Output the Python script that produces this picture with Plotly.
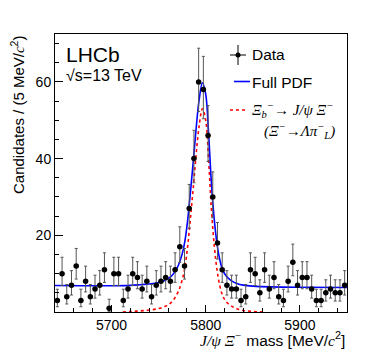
import numpy as np
import plotly.graph_objects as go

# J/psi Xi- invariant mass, 5 MeV bins from 5640 to 5950
bin_lo = 5640
bin_width = 5
counts = [3, 10, 4, 7, 12, 3, 8, 4, 6, 7, 11, 1, 10, 10, 3, 6,
          10, 9, 6, 8, 4, 7, 8, 9, 8, 11, 17,
          12, 27, 40, 60, 58, 46, 30, 18,
          11, 7, 6, 6, 3, 4, 11, 10, 5, 11, 6, 9, 4, 3, 8, 13, 7, 9, 9, 6, 3, 3, 5, 6, 5, 5, 7]

# fitted curves
pdf_mass = [5640, 5700, 5720, 5730, 5740, 5750, 5757, 5762, 5767, 5771, 5775, 5778, 5781, 5784,
            5787, 5790, 5793, 5796.5, 5800, 5803, 5806, 5809, 5812, 5815, 5818, 5822, 5827,
            5833, 5840, 5850, 5870, 5900, 5950]
pdf_full = [6.9, 6.85, 6.95, 7.1, 7.3, 7.7, 8.3, 9.0, 10.4, 12.2, 15.1, 18.6, 24.3, 31.8,
            39.8, 48.3, 55.3, 59.8, 56.8, 46.8, 33.8, 24.3, 17.8, 13.6, 11.0, 9.3, 8.2,
            7.45, 7.0, 6.75, 6.55, 6.45, 6.4]
sig_mass = [5712, 5720, 5730, 5740, 5750, 5757, 5762, 5767, 5771, 5775, 5778, 5781, 5784, 5787,
            5790, 5793, 5796.5, 5800, 5803, 5806, 5809, 5812, 5815, 5818, 5822, 5827, 5833,
            5840, 5850, 5862]
sig_pdf = [0.0, 0.12, 0.28, 0.5, 0.9, 1.5, 2.2, 3.6, 5.4, 8.3, 11.8, 17.5, 25, 33,
           41.5, 48.5, 53, 50, 40, 27, 17.5, 11, 6.8, 4.3, 2.6, 1.6, 0.85,
           0.4, 0.15, 0.0]

x_ticks = [5700, 5800, 5900]
y_ticks = [20, 40, 60]

n = np.array(counts, dtype=float)
centers = bin_lo + bin_width * (np.arange(len(counts)) + 0.5)
# asymmetric Poisson errors (Gehrels approximation)
err_hi = np.sqrt(n + 0.75) + 1.0
err_lo = n - n * (1 - 1 / (9 * n) - 1 / (3 * np.sqrt(n))) ** 3

FONT = "Liberation Sans, Arial, sans-serif"
SERIF = "Liberation Serif"

fig = go.Figure()
fig.add_trace(go.Scatter(x=sig_mass, y=sig_pdf, mode="lines", line_shape="spline",
                         line=dict(color="#ff0000", width=1.6, dash="dot")))
fig.add_trace(go.Scatter(x=pdf_mass, y=pdf_full, mode="lines", line_shape="spline",
                         line=dict(color="#0000ff", width=1.6)))
fig.add_trace(go.Scatter(
    x=centers, y=n, mode="markers",
    marker=dict(color="black", size=5.5),
    error_y=dict(type="data", symmetric=False, array=err_hi, arrayminus=err_lo,
                 color="#555555", thickness=1, width=1.5),
    error_x=dict(type="constant", value=bin_width / 2, color="black", thickness=1, width=0),
))

# the page body has an 8px margin, so the figure is drawn 8px right and down
OFF = 8
W, H = 366 - OFF, 351 - OFF
# plot area in window pixels: x 55..347, y 34..312
L, R, T, B = 55, 347, 34, 312
def px(x):
    return (x - L) / (R - L)
def py(y):
    return (B - y) / (B - T)

shapes = [
    # Data legend icon
    dict(type="line", xref="paper", yref="paper", x0=px(238), x1=px(238), y0=py(45), y1=py(65),
         line=dict(color="black", width=1)),
    dict(type="line", xref="paper", yref="paper", x0=px(230), x1=px(246), y0=py(55), y1=py(55),
         line=dict(color="black", width=1)),
    dict(type="circle", xref="paper", yref="paper", x0=px(235.5), x1=px(240.5), y0=py(57.5), y1=py(52.5),
         fillcolor="black", line=dict(color="black", width=0)),
    # Full PDF legend icon
    dict(type="line", xref="paper", yref="paper", x0=px(234), x1=px(250), y0=py(81.5), y1=py(81.5),
         line=dict(color="#0000ff", width=1.6)),
    # signal legend icon
    dict(type="line", xref="paper", yref="paper", x0=px(230), x1=px(247), y0=py(110), y1=py(110),
         line=dict(color="#ff0000", width=1.6, dash="dot")),
]

def ann(x, y, text, size, xanchor="left", angle=0, yanchor="middle", family=FONT):
    return dict(xref="paper", yref="paper", x=px(x), y=py(y), text=text, showarrow=False,
                xanchor=xanchor, yanchor=yanchor, textangle=angle,
                font=dict(family=family, size=size, color="black"))

it = lambda s: f"<i><span style='font-family:{SERIF}'>{s}</span></i>"
annotations = [
    ann(64, 54, "LHCb", 21),
    ann(64, 76, "√s=13 TeV", 16),
    ann(250, 55, "Data", 15.5),
    ann(250, 82, "Full PDF", 15.5),
    ann(250, 110, it("Ξ<sub>b</sub><sup>−</sup>→ J/ψ Ξ<sup>−</sup>"), 15, family=SERIF),
    ann(262, 131, it("(Ξ<sup>−</sup>→Λπ<sup>−</sup><sub>L</sub>)"), 15, family=SERIF),
    ann(347, 327, it("J/ψ Ξ<sup>−</sup>") + " mass [MeV/" + it("c") + "<sup>2</sup>]", 15.5,
        xanchor="right", yanchor="top"),
    dict(xref="paper", yref="paper", x=px(17), y=1.0, text="Candidates / (5 MeV/" + it("c") + "<sup>2</sup>)",
         showarrow=False, xanchor="center", yanchor="top", textangle=-90,
         font=dict(family=FONT, size=15, color="black")),
]

fig.update_layout(
    width=W, height=H,
    margin=dict(l=L - OFF, r=W - (R - OFF), t=T - OFF, b=H - (B - OFF)),
    paper_bgcolor="white", plot_bgcolor="white",
    showlegend=False,
    font=dict(family=FONT, size=14, color="black"),
    shapes=shapes, annotations=annotations,
)
fig.update_xaxes(range=[5640, 5950], tickmode="array", tickvals=x_ticks,
                 ticks="inside", ticklen=7, tickwidth=1, tickcolor="black",
                 minor=dict(tickmode="linear", tick0=5640, dtick=20, ticks="inside", ticklen=4,
                            tickcolor="black", showgrid=False),
                 showline=True, linecolor="black", linewidth=1, mirror=True,
                 showgrid=False, zeroline=False, tickfont=dict(size=14))
fig.update_yaxes(range=[0, 72.5], tickmode="array", tickvals=y_ticks,
                 ticks="inside", ticklen=8, tickwidth=1, tickcolor="black",
                 minor=dict(tickmode="linear", tick0=0, dtick=5, ticks="inside", ticklen=4,
                            tickcolor="black", showgrid=False),
                 showline=True, linecolor="black", linewidth=1, mirror=True,
                 showgrid=False, zeroline=False, tickfont=dict(size=14))

fig.write_html("out.html")
